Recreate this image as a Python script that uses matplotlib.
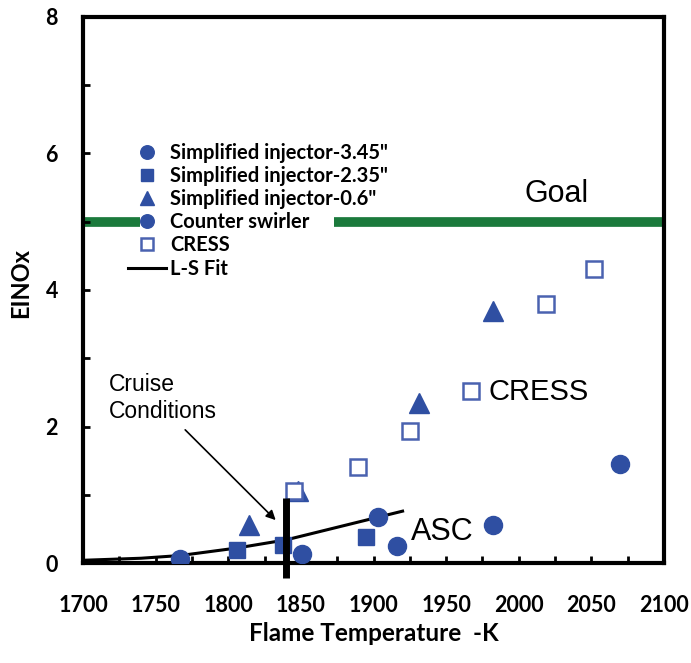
import matplotlib
matplotlib.use("Agg")
import matplotlib.pyplot as plt
from matplotlib.ticker import MultipleLocator

# data
circle_t = [1767, 1851, 1903, 1916, 1982, 2070]
circle_e = [0.06, 0.13, 0.67, 0.25, 0.56, 1.45]

square_t = [1806, 1838, 1895]
square_e = [0.19, 0.26, 0.38]

tri_t = [1814, 1848, 1931, 1982]
tri_e = [0.56, 1.05, 2.34, 3.69]

cress_t = [1845, 1889, 1925, 1967, 2019, 2052]
cress_e = [1.05, 1.41, 1.93, 2.52, 3.79, 4.31]

fit_t = [1700, 1740, 1767, 1806, 1840, 1880, 1920]
fit_e = [0.04, 0.07, 0.11, 0.22, 0.34, 0.55, 0.76]

# goal line is broken where the legend sits
goal = 5.0
goal_left = [1700, 1739]
goal_right = [1873, 2100]

cruise_t = 1840
cruise_e = [-0.22, 0.95]

blue = "#2f4fa2"
green = "#1b7a3c"
bold_font = "Lato"
plain_font = "Liberation Sans"

fig = plt.figure(figsize=(6.91, 6.63), dpi=100)
ax = fig.add_axes([0.1201, 0.1508, 0.8409, 0.8236])

for seg in (goal_left, goal_right):
    ax.plot(seg, [goal, goal], color=green, lw=7, solid_capstyle="butt", zorder=1)

ax.plot(fit_t, fit_e, color="black", lw=2.2, zorder=2, label="L-S Fit")

ax.plot(circle_t, circle_e, "o", color=blue, ms=13, ls="none", zorder=3, label='Simplified injector-3.45"')
ax.plot(square_t, square_e, "s", color=blue, ms=12, ls="none", zorder=3, label='Simplified injector-2.35"')
ax.plot(tri_t, tri_e, "^", color=blue, ms=14, ls="none", zorder=3, label='Simplified injector-0.6"')
ax.plot(cress_t, cress_e, "s", mfc="white", mec="#4a62b0", mew=1.8, ms=12, ls="none", zorder=3, label="CRESS")

# cruise marker bar
ax.plot([cruise_t, cruise_t], cruise_e, color="black", lw=5, solid_capstyle="butt", clip_on=False, zorder=4)
ax.annotate("", xy=(1834, 0.6), xytext=(1769, 1.98),
            arrowprops=dict(arrowstyle="-|>", color="black", lw=1.2, mutation_scale=14))
ax.text(1718, 2.05, "Cruise\nConditions", fontsize=16.5, family=plain_font, va="bottom", ha="left", linespacing=1.25)

ax.text(2026, 5.18, "Goal", fontsize=22, family=plain_font, ha="center", va="bottom")
ax.text(1979, 2.5, "CRESS", fontsize=21, family=plain_font, ha="left", va="center")
ax.text(1926, 0.46, "ASC", fontsize=22, family=plain_font, ha="left", va="center")

# legend in the reference order
h, l = ax.get_legend_handles_labels()
lookup = dict(zip(l, h))
counter = plt.Line2D([], [], marker="o", color=blue, ls="none", ms=13)
handles = [lookup['Simplified injector-3.45"'], lookup['Simplified injector-2.35"'],
           lookup['Simplified injector-0.6"'], counter, lookup["CRESS"], lookup["L-S Fit"]]
labels = ['Simplified injector-3.45"', 'Simplified injector-2.35"', 'Simplified injector-0.6"',
          "Counter swirler", "CRESS", "L-S Fit"]
leg = ax.legend(handles, labels, loc="upper left", bbox_to_anchor=(0.0775, 0.77),
                frameon=False, markerscale=0.75, handlelength=1.9, handletextpad=0.2,
                labelspacing=0.16, borderpad=0, borderaxespad=0,
                prop={"family": bold_font, "weight": "bold", "size": 14.5})
leg.set_zorder(5)

ax.set_xlim(1700, 2100)
ax.set_ylim(0, 8)
ax.xaxis.set_major_locator(MultipleLocator(50))
ax.xaxis.set_minor_locator(MultipleLocator(25))
ax.yaxis.set_major_locator(MultipleLocator(2))
ax.yaxis.set_minor_locator(MultipleLocator(1))
ax.tick_params(which="both", direction="in", length=5, width=2, top=False, right=False)
ax.tick_params(axis="x", which="major", pad=23)
ax.tick_params(axis="y", which="major", pad=18)
for lab in ax.get_xticklabels() + ax.get_yticklabels():
    lab.set_family(bold_font)
    lab.set_fontweight("bold")
    lab.set_fontsize(15.5)
for s in ax.spines.values():
    s.set_linewidth(3)

ax.set_xlabel("Flame Temperature  -K", family=bold_font, fontweight="bold", fontsize=17.5)
ax.xaxis.set_label_coords(0.5, -0.108)
ax.set_ylabel("EINOx", family=bold_font, fontweight="bold", fontsize=17)
ax.yaxis.set_label_coords(-0.088, 0.513)

fig.savefig("out.png", dpi=100)
